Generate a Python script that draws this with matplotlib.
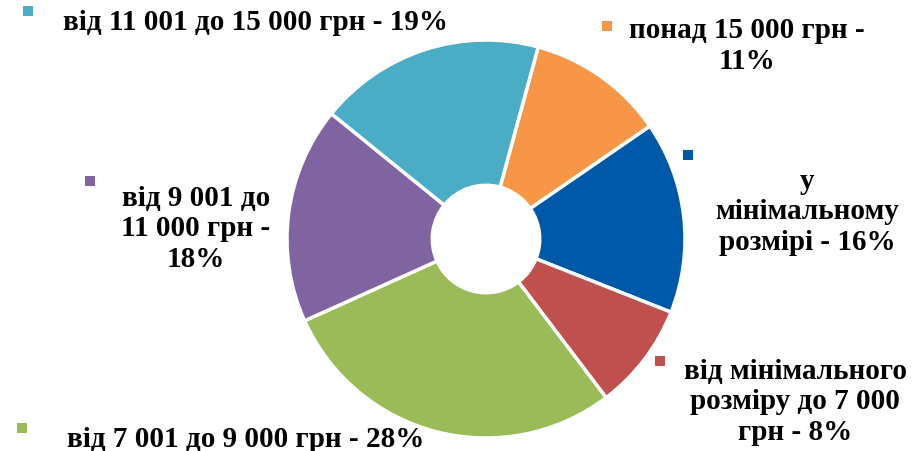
import matplotlib.pyplot as plt

# Data (clockwise from the top); shares
labels = ['понад 15 000 грн -\n11%',
          'у\nмінімальному\nрозмірі - 16%',
          'від мінімального\nрозміру до 7 000\nгрн - 8%',
          'від 7 001 до 9 000 грн - 28%',
          'від 9 001 до\n11 000 грн -\n18%',
          'від 11 001 до 15 000 грн - 19%']
shares = [11.2, 15.6, 8.7, 28.6, 17.6, 18.4]
colors = ['#F79646', '#0058A8', '#C0504D', '#9BBB59', '#8064A2', '#4BACC6']

# label centres and key squares in pixel coordinates (y from top)
label_pos = [(747, 46), (807, 212), (795, 402), (246, 440), (196, 229), (255, 22)]
key_pos = [(607, 27), (688, 156), (660, 362), (22, 429), (90, 182), (28, 12)]

W, H = 915, 452
fig = plt.figure(figsize=(W / 100, H / 100), dpi=100)
ax = fig.add_axes([0, 0, 1, 1])
ax.set_xlim(0, W)
ax.set_ylim(0, H)
ax.set_aspect('equal')
ax.axis('off')

cx, cy, r = 486, H - 240, 199
ax.pie(shares, colors=colors, center=(cx, cy), radius=r,
       startangle=74.8, counterclock=False,
       wedgeprops=dict(width=r * 0.73, edgecolor='white', linewidth=2.5))
ax.set_xlim(0, W)
ax.set_ylim(0, H)

for lab, (x, y), (kx, ky), c in zip(labels, label_pos, key_pos, colors):
    ax.text(x, H - y, lab, ha='center', va='center', fontsize=21,
            fontweight='bold', family='Liberation Serif', linespacing=1.15)
    ax.add_patch(plt.Rectangle((kx - 5, H - ky - 5), 10, 10, color=c, lw=0))

fig.savefig('out.png', dpi=100)
